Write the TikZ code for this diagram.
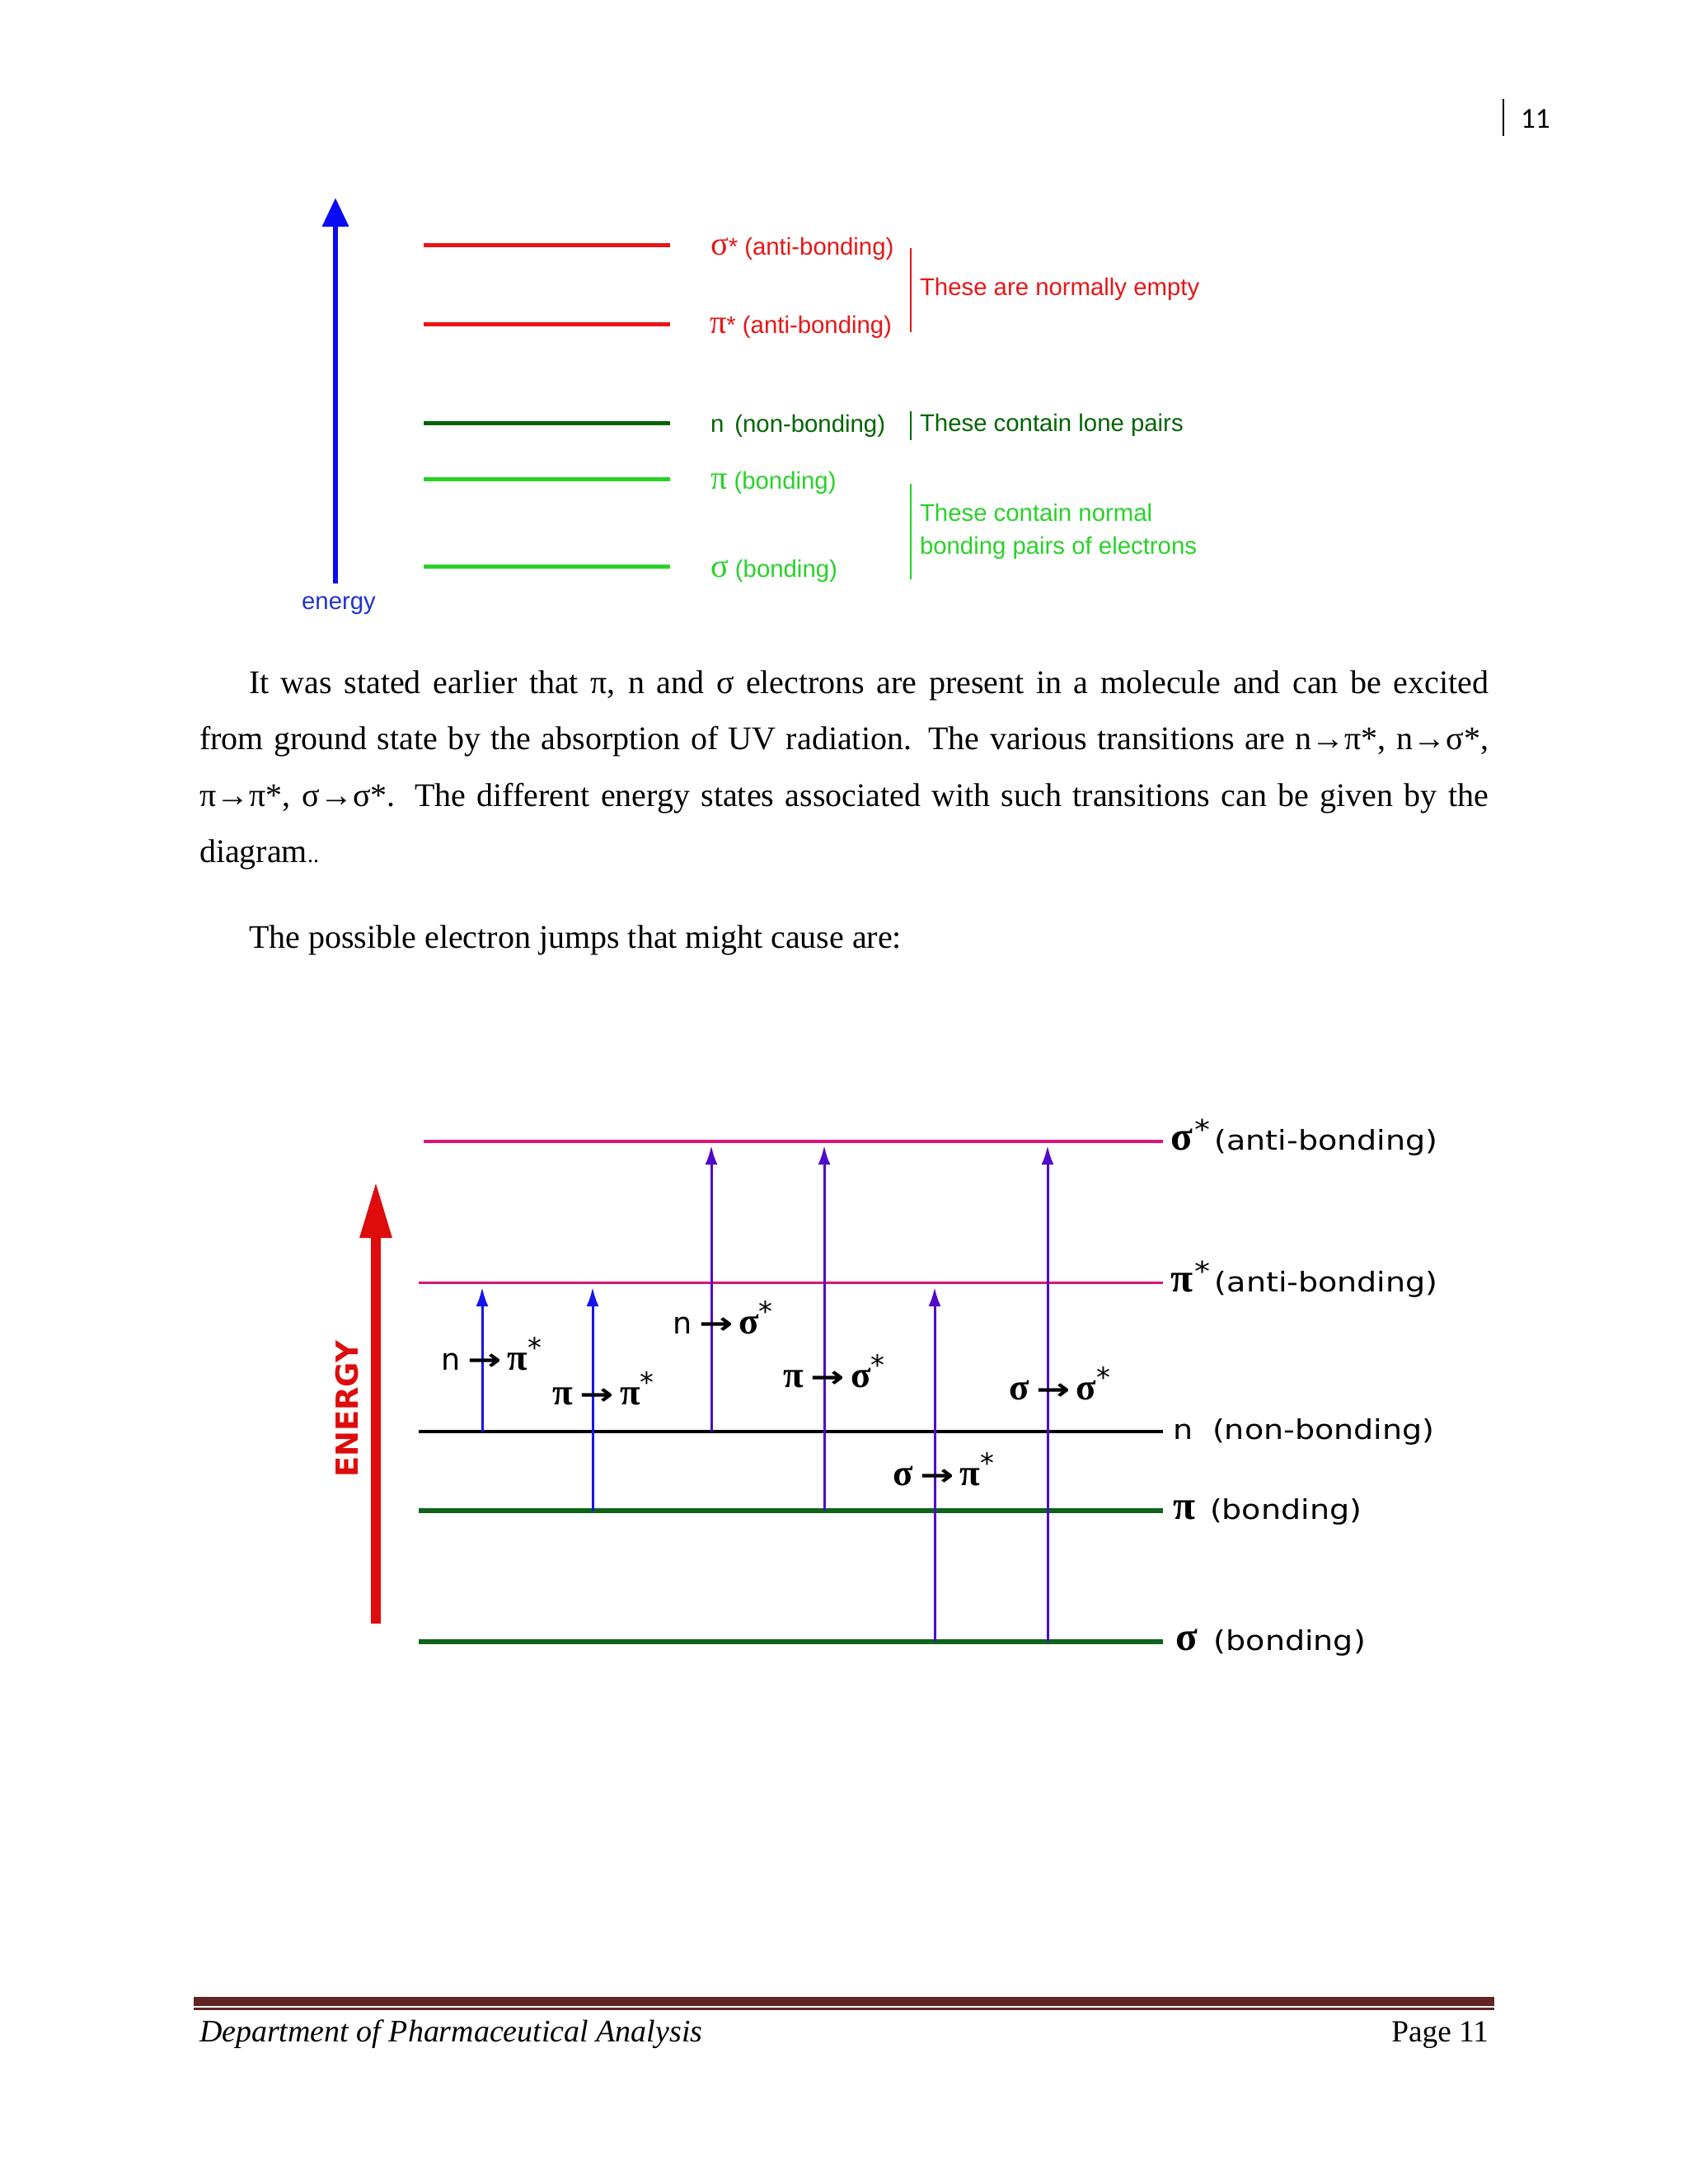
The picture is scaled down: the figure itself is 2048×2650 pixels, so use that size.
\documentclass[tikz,border=0pt]{standalone}
\usepackage{fontspec}
\setmainfont{Liberation Serif}
\newfontfamily\sansf{Liberation Sans}
\newfontfamily\labf[FakeStretch=1.15]{DejaVu Sans}
\newfontfamily\dvf{DejaVu Sans}
\newfontfamily\carl{Carlito}
\usetikzlibrary{arrows.meta}
\newcommand{\myfs}[1]{\fontsize{#1}{#1}\selectfont}
\definecolor{tred}{RGB}{232,22,22}
\definecolor{tdgreen}{RGB}{0,100,0}
\definecolor{tlgreen}{RGB}{40,210,40}
\definecolor{tblue}{RGB}{10,10,245}
\definecolor{eblue}{RGB}{35,50,205}
\definecolor{magl}{RGB}{220,20,120}
\definecolor{bgreen}{RGB}{15,100,25}
\definecolor{ered}{RGB}{222,12,12}
\definecolor{abl}{RGB}{20,20,240}
\definecolor{apu}{RGB}{80,10,200}
\definecolor{foot}{RGB}{98,36,35}
\newcommand{\grk}[1]{{\rmfamily\bfseries\myfs{14pt}#1}}
\newcommand{\grt}[1]{{\rmfamily\bfseries\myfs{12.8pt}#1}}
\newcommand{\tg}[1]{{\rmfamily\myfs{11.5pt}#1}}
\newcommand{\st}{\hspace{0.3mm}\raisebox{1.3mm}{\labf\myfs{9.4pt}*}\hspace{0.5mm}}
\newcommand{\tst}{\raisebox{1.5mm}{\dvf\myfs{9.6pt}*}}
\newcommand{\tarr}{\hspace{0.9mm}\scalebox{1.35}[1]{\dvf\bfseries\myfs{10.4pt}→}\hspace{0.7mm}}
\begin{document}
\begin{tikzpicture}[x=0.1mm,y=-0.1mm,
  every node/.style={inner sep=0pt, outer sep=0pt},
  toplab/.style={font=\sansf\myfs{8.35pt}, anchor=base west},
  botlab/.style={font=\labf\myfs{9.4pt}, anchor=base west},
  trlab/.style={font=\dvf\myfs{10.4pt}, anchor=base west},
  body/.style={font=\myfs{11.38pt}, anchor=base west},
  toplev/.style={line width=0.5mm},
  brk/.style={line width=0.2mm},
  botlev/.style={line width=0.35mm},
  bondlev/.style={line width=0.6mm, color=bgreen},
  trans/.style={line width=0.3mm, -{Latex[length=2.3mm,width=1.5mm]}}
]
\fill[white] (0,0) rectangle (2048,2650);
\useasboundingbox (0,0) rectangle (2048,2650);

% page number
\coordinate (pbT) at (1824,120);
\coordinate (pbB) at (1824,165);
\draw[line width=0.25mm] (pbT) -- (pbB);
\node[anchor=base west, font=\carl\myfs{10pt}] (pnum) at (1845,155) {11};

% ---------- top diagram ----------
\coordinate (eB) at (407,708);
\coordinate (eT) at (407,240);
\draw[tblue, line width=0.65mm, -{Triangle[length=3.5mm,width=3.1mm]}] (eB) -- (eT);
\node[toplab, anchor=base, text=eblue] (energy) at (411,739) {energy};

\draw[toplev, tred] (514,297.5) -- (813,297.5);
\draw[toplev, tred] (514,393) -- (813,393);
\draw[toplev, tdgreen] (514,513.5) -- (813,513.5);
\draw[toplev, tlgreen] (514,581) -- (813,581);
\draw[toplev, tlgreen] (514,687.5) -- (813,687.5);

\node[toplab, text=tred] (tl1) at (862,309) {\tg{σ}* (anti-bonding)};
\node[toplab, text=tred] (tl2) at (861,404) {\tg{π}* (anti-bonding)};
\node[toplab, text=tdgreen] (tl3) at (862,524) {n\, (non-bonding)};
\node[toplab, text=tlgreen] (tl4) at (862,593) {\tg{π} (bonding)};
\node[toplab, text=tlgreen] (tl5) at (862,700) {\tg{σ} (bonding)};

\draw[brk, tred] (1105,301) -- (1105,403);
\draw[brk, tdgreen] (1105,499) -- (1105,534);
\draw[brk, tlgreen] (1105,587) -- (1105,703);

\node[toplab, text=tred] (c1) at (1116,358) {These are normally empty};
\node[toplab, text=tdgreen] (c2) at (1116,523) {These contain lone pairs};
\node[toplab, text=tlgreen] (c3) at (1116,632) {These contain normal};
\node[toplab, text=tlgreen] (c4) at (1116,672) {bonding pairs of electrons};

% ---------- body text ----------
\node[body] (l1) at (302,841) {\makebox[150.4mm][s]{It was stated earlier that π, n and σ electrons are present in a molecule and can be excited}};
\node[body] (l2) at (242,909.7) {\makebox[156.4mm][s]{from ground state by the absorption of UV radiation. The various transitions are n→π*, n→σ*,}};
\node[body] (l3) at (242,978) {\makebox[156.4mm][s]{π→π*, σ→σ*. The different energy states associated with such transitions can be given by the}};
\node[body] (l4) at (242,1046.7) {diagram{\myfs{8pt}..}};
\node[body] (l5) at (302,1150) {The possible electron jumps that might cause are:};

% ---------- bottom diagram ----------
\draw[botlev, magl] (514,1385) -- (1411,1385);
\draw[botlev, magl] (508,1556.7) -- (1411,1556.7);
\draw[botlev, black] (508,1737) -- (1411,1737);
\draw[bondlev] (508,1833) -- (1411,1833);
\draw[bondlev] (508,1992) -- (1411,1992);

\node[botlab] (b1) at (1420,1395) {\grk{σ}\st(anti-bonding)};
\node[botlab] (b2) at (1420,1567) {\grk{π}\st(anti-bonding)};
\node[botlab] (b3) at (1423,1746) {n\hspace{1.2mm} (non-bonding)};
\node[botlab] (b4) at (1423,1843) {\grk{π}\hspace{0.6mm} (bonding)};
\node[botlab] (b5) at (1426,2002) {\grk{σ}\hspace{0.8mm} (bonding)};

% energy arrow
\coordinate (EB) at (456,1970);
\coordinate (ET) at (456,1433);
\draw[ered, line width=1.2mm, -{Triangle[length=6.9mm,width=3.6mm]}] (EB) -- (ET);
\node[rotate=90, anchor=center, text=ered, font=\dvf\bfseries\myfs{10.5pt}] (EN) at (421.5,1710) {ENERGY};

% transition coordinates
\coordinate (a1s) at (585,1737);  \coordinate (a1e) at (585,1562);
\coordinate (a2s) at (719,1833);  \coordinate (a2e) at (719,1562);
\coordinate (a3s) at (863,1737);  \coordinate (a3e) at (863,1390);
\coordinate (a4s) at (1000,1833); \coordinate (a4e) at (1000,1390);
\coordinate (a5s) at (1134,1992); \coordinate (a5e) at (1134,1562);
\coordinate (a6s) at (1271,1992); \coordinate (a6e) at (1271,1390);

\draw[trans, abl] (a1s) -- (a1e);
\draw[trans, abl] (a2s) -- (a2e);
\draw[trans, apu] (a3s) -- (a3e);
\draw[trans, apu] (a4s) -- (a4e);
\draw[trans, apu] (a5s) -- (a5e);
\draw[trans, apu] (a6s) -- (a6e);

\node[trlab] (t1) at (535,1662) {n\tarr\grt{π}\tst};
\node[trlab] (t2) at (670,1704) {\grt{π}\tarr\grt{π}\tst};
\node[trlab] (t3) at (816,1618) {n\tarr\grt{σ}\tst};
\node[trlab] (t4) at (950,1683) {\grt{π}\tarr\grt{σ}\tst};
\node[trlab] (t5) at (1083,1802) {\grt{σ}\tarr\grt{π}\tst};
\node[trlab] (t6) at (1224,1698) {\grt{σ}\tarr\grt{σ}\tst};

% ---------- footer ----------
\coordinate (f1L) at (235,2428);   \coordinate (f1R) at (1813,2428);
\coordinate (f2L) at (235,2437.5); \coordinate (f2R) at (1813,2437.5);
\draw[foot, line width=1.1mm] (f1L) -- (f1R);
\draw[foot, line width=0.3mm] (f2L) -- (f2R);
\node[anchor=base west, font=\itshape\myfs{10.8pt}] (dep) at (242,2477) {Department of Pharmaceutical Analysis};
\node[anchor=base east, font=\myfs{10.6pt}] (pg) at (1806,2477) {Page 11};
\end{tikzpicture}
\end{document}
